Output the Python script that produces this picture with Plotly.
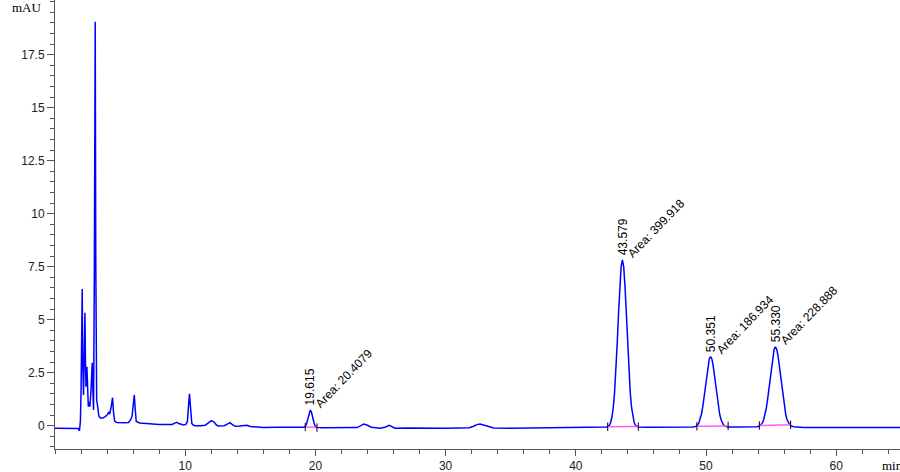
import plotly.graph_objects as go

# ---- chromatogram signal (time in min, signal in mAU) ----
time_min = [
    0.0, 0.5, 1.0, 1.5, 1.78, 1.88, 1.95, 2.0,
    2.05, 2.09, 2.13, 2.19, 2.25, 2.30, 2.34, 2.38, 2.42, 2.45, 2.50, 2.56, 2.62, 2.68,
    2.76, 2.83, 2.86, 2.90, 2.96, 3.02, 3.09, 3.13, 3.17, 3.20, 3.24, 3.30, 3.37, 3.52,
    3.70, 3.86, 4.0, 4.11, 4.20, 4.32, 4.42, 4.50, 4.58, 4.75, 5.0, 5.3, 5.65, 5.8,
    5.92, 6.0, 6.09, 6.16, 6.24, 6.5, 7.0, 7.5, 8.0, 8.5, 9.0, 9.2, 9.36, 9.5, 9.87,
    10.05, 10.17, 10.25, 10.33, 10.41, 10.51, 10.65, 10.77, 11.2, 11.54, 11.75, 12.0,
    12.2, 12.4, 12.56, 13.0, 13.3, 13.45, 13.6, 13.84, 14.2, 14.5, 14.74, 15.0, 15.5,
    16.0, 17.0, 18.0, 18.8,
    19.115, 19.215, 19.315, 19.415, 19.515, 19.615, 19.715, 19.815, 19.915, 20.015, 20.115,
    20.5, 21.5, 22.5, 23.2, 23.5, 23.7, 23.95, 24.3, 24.97, 25.4, 25.68, 25.9, 26.1,
    27.0, 28.0, 29.0, 30.0, 31.0, 31.8, 32.1, 32.4, 32.65, 32.9, 33.3, 33.7, 35.0,
    36.5, 38.0, 39.5, 41.0, 42.0, 42.38,
    42.58, 42.68, 42.78, 42.88, 42.98, 43.08, 43.18, 43.28, 43.38, 43.48, 43.58,
    43.68, 43.78, 43.88, 43.98, 44.08, 44.18, 44.28, 44.38, 44.48, 44.58, 44.78,
    45.5, 46.5, 47.5, 48.5, 49.0,
    49.05, 49.25, 49.35, 49.45, 49.55, 49.65, 49.75, 49.85, 49.95, 50.05, 50.15, 50.25,
    50.35, 50.45, 50.55, 50.65, 50.75, 50.85, 50.95, 51.05, 51.15, 51.25, 51.35, 51.45,
    51.65, 52.3, 53.0, 53.7, 53.93,
    54.13, 54.23, 54.33, 54.43, 54.53, 54.63, 54.73, 54.83, 54.93, 55.03, 55.13, 55.23,
    55.33, 55.43, 55.53, 55.63, 55.73, 55.83, 55.93, 56.03, 56.13, 56.23, 56.33, 56.43,
    56.53, 56.73, 57.5, 58.5, 59.5, 60.5, 61.5, 62.5, 63.5, 64.9,
]
signal_mau = [
    -0.12, -0.12, -0.12, -0.12, -0.13, -0.24, 0.2, 1.6,
    4.5, 6.45, 3.0, 1.45, 3.5, 5.33, 3.0, 1.84, 2.3, 2.78, 1.6, 0.9, 1.1, 0.9,
    1.6, 2.7, 2.97, 1.8, 0.74, 7.0, 19.05, 8.0, 2.2, 1.2, 1.07, 0.75, 0.45, 0.35,
    0.37, 0.43, 0.5, 0.62, 0.55, 0.9, 1.32, 0.6, 0.22, 0.15, 0.14, 0.14, 0.15, 0.27,
    0.45, 0.9, 1.45, 0.8, 0.2, 0.13, 0.1, 0.08, 0.06, 0.05, 0.06, 0.12, 0.16, 0.1, 0.03,
    0.06, 0.2, 0.9, 1.5, 0.85, 0.1, 0.02, 0.0, 0.0, 0.02, 0.12, 0.24,
    0.18, 0.03, -0.02, 0.0, 0.1, 0.14, 0.06, -0.03, -0.02, 0.0, 0.02, -0.04, -0.07,
    -0.08, -0.07, -0.08, -0.08,
    -0.07, -0.04, 0.08, 0.31, 0.60, 0.74, 0.60, 0.31, 0.08, -0.04, -0.08,
    -0.1, -0.1, -0.1, -0.09, 0.0, 0.08, 0.03, -0.07, -0.12, -0.06, 0.02, -0.06, -0.12,
    -0.11, -0.12, -0.11, -0.12, -0.11, -0.1, -0.04, 0.05, 0.08, 0.04, -0.06, -0.11, -0.12,
    -0.11, -0.12, -0.11, -0.1, -0.09, -0.06,
    0.02, 0.16, 0.42, 0.87, 1.59, 2.60, 3.87, 5.28, 6.56, 7.49, 7.82,
    7.49, 6.56, 5.28, 3.87, 2.60, 1.59, 0.87, 0.42, 0.16, 0.02, -0.06,
    -0.07, -0.07, -0.08, -0.07, -0.07,
    -0.06, -0.02, 0.03, 0.13, 0.29, 0.54, 0.89, 1.33, 1.84, 2.37, 2.83, 3.15,
    3.26, 3.15, 2.83, 2.37, 1.84, 1.33, 0.89, 0.54, 0.29, 0.13, 0.03, -0.02,
    -0.06, -0.06, -0.05, -0.05, -0.05,
    -0.01, 0.04, 0.13, 0.28, 0.50, 0.82, 1.24, 1.74, 2.29, 2.83, 3.30, 3.61,
    3.72, 3.61, 3.30, 2.83, 2.29, 1.74, 1.24, 0.82, 0.50, 0.28, 0.13, 0.04,
    -0.01, -0.05, -0.08, -0.08, -0.08, -0.09, -0.08, -0.09, -0.09, -0.09,
]

# ---- integrated peaks ----
peak_rt = [19.615, 43.579, 50.351, 55.330]
peak_top = [0.74, 7.82, 3.26, 3.72]
peak_rt_label = ["19.615", "43.579", "50.351", "55.330"]
peak_area_label = ["Area: 20.4079", "Area: 399.918", "Area: 186.934", "Area: 228.888"]

# integration baselines (start, end) per peak
int_start_t = [19.22, 42.45, 49.3, 54.1]
int_start_y = [-0.06, -0.05, -0.03, 0.01]
int_end_t = [20.12, 44.8, 51.7, 56.5]
int_end_y = [-0.09, -0.04, -0.01, 0.04]

y_tick_vals = [0, 2.5, 5, 7.5, 10, 12.5, 15, 17.5]
y_tick_text = ["0", "2.5", "5", "7.5", "10", "12.5", "15", "17.5"]
x_tick_vals = [10, 20, 30, 40, 50, 60]

fig = go.Figure()
fig.add_trace(go.Scatter(x=time_min, y=signal_mau, mode="lines",
                         line=dict(color="#0000ff", width=1.5), hoverinfo="skip"))

bl_x, bl_y = [], []
for ts, ys, te, ye in zip(int_start_t, int_start_y, int_end_t, int_end_y):
    bl_x += [ts, te, None]
    bl_y += [ys, ye, None]
fig.add_trace(go.Scatter(x=bl_x, y=bl_y, mode="lines",
                         line=dict(color="#ff5cff", width=1.5), hoverinfo="skip"))
fig.add_trace(go.Scatter(x=int_start_t + int_end_t, y=int_start_y + int_end_y, mode="markers",
                         marker=dict(symbol="line-ns-open", size=6, color="#000000",
                                     line=dict(color="#000000", width=1)),
                         hoverinfo="skip"))

lab_font = dict(family="Liberation Sans, Arial, sans-serif", size=12, color="#000000")
for rt, top, rl, al in zip(peak_rt, peak_top, peak_rt_label, peak_area_label):
    fig.add_annotation(x=rt, y=top, text=rl, showarrow=False, textangle=-90,
                       xanchor="center", yanchor="middle", yshift=23, font=lab_font)
    fig.add_annotation(x=rt, y=top, text=al, showarrow=False, textangle=-46,
                       xanchor="center", yanchor="middle", xshift=34, yshift=32, font=lab_font)

fig.add_annotation(xref="paper", yref="paper", x=-0.013, y=0.984, text="mAU",
                   showarrow=False, xanchor="right", yanchor="middle",
                   font=dict(family="Liberation Serif, Times New Roman, serif", size=13, color="#000000"))
fig.add_annotation(xref="paper", yref="paper", x=0.976, y=-0.036, text="min",
                   showarrow=False, xanchor="left", yanchor="middle",
                   font=dict(family="Liberation Serif, Times New Roman, serif", size=13, color="#000000"))

axis_col = "#555555"
tick_font = dict(family="Liberation Sans, Arial, sans-serif", size=12, color="#222222")
fig.update_xaxes(range=[0, 64.9], showline=True, linecolor=axis_col, linewidth=1,
                 ticks="outside", ticklen=6, tickcolor=axis_col, tickwidth=1,
                 tickvals=x_tick_vals, showgrid=False, zeroline=False, tickfont=tick_font,
                 automargin=False,
                 minor=dict(dtick=2, tick0=0, ticks="outside", ticklen=4,
                            tickcolor=axis_col, showgrid=False))
fig.update_yaxes(range=[-1.1, 20.08], showline=True, linecolor=axis_col, linewidth=1,
                 ticks="outside", ticklen=7, tickcolor=axis_col, tickwidth=1,
                 tickvals=y_tick_vals, ticktext=y_tick_text, showgrid=False, zeroline=False,
                 tickfont=tick_font, automargin=False,
                 minor=dict(dtick=0.5, tick0=0, ticks="outside", ticklen=4,
                            tickcolor=axis_col, showgrid=False))
fig.update_layout(width=900, height=472, margin=dict(l=55, r=0, t=0, b=23),
                  plot_bgcolor="white", paper_bgcolor="white", showlegend=False)

fig.write_html("out.html", config={"displayModeBar": False},
               post_script="document.body.style.margin='0';document.body.style.overflow='hidden';")
